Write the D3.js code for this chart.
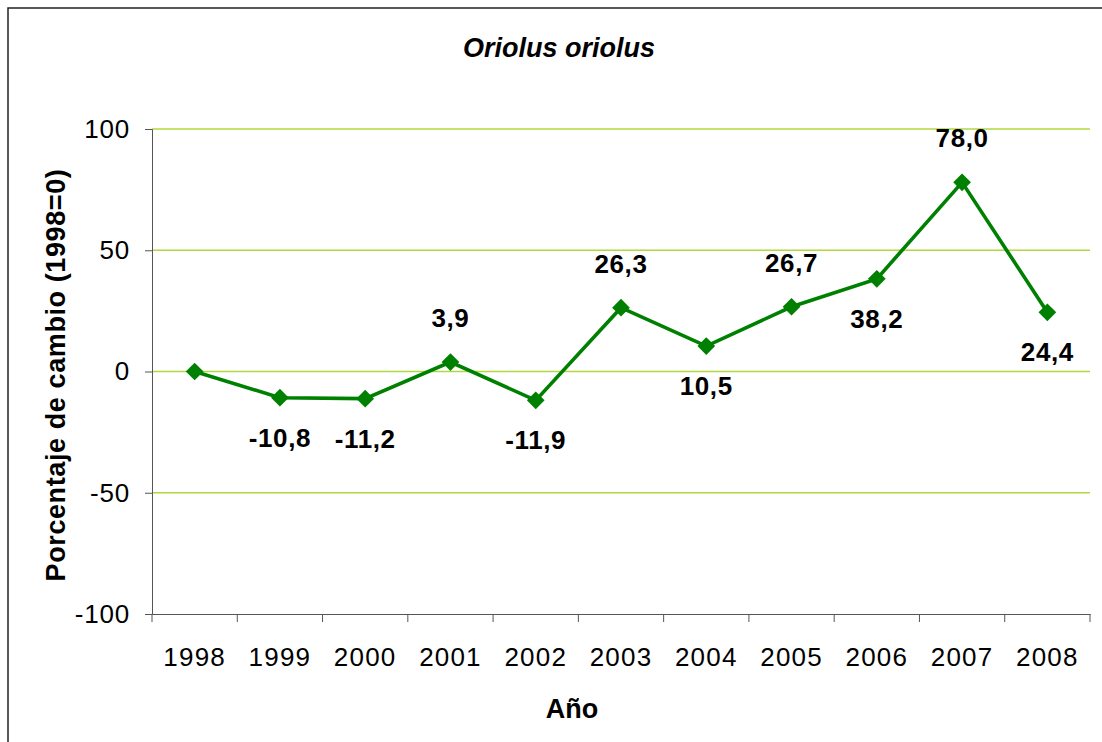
<!DOCTYPE html>
<html>
<head>
<meta charset="utf-8">
<script src="https://cdn.jsdelivr.net/npm/d3@7"></script>
<style>
  body { margin: 0; background: #fff; }
  svg { display: block; font-family: "Liberation Sans", Arial, sans-serif; }
</style>
</head>
<body>
<div id="chart"></div>
<script>
let years = ["1998", "1999", "2000", "2001", "2002", "2003", "2004", "2005", "2006", "2007", "2008"]
let values = [0, -10.8, -11.2, 3.9, -11.9, 26.3, 10.5, 26.7, 38.2, 78.0, 24.4]
// which side the value label sits on (1998 has no label)
let labelPos = [null, "below", "below", "above", "below", "above", "below", "above", "below", "above", "below"]
let yTicks = [-100, -50, 0, 50, 100]

let W = 1102, H = 742
let margin = {top: 129, left: 152}
let width = 1090 - margin.left,
    height = 614 - margin.top
let font = "Liberation Sans, Arial, sans-serif"

let svg = d3.select("#chart").append("svg")
    .attr("width", W)
    .attr("height", H)

// outer frame
svg.append("rect")
    .attr("x", 8).attr("y", 8)
    .attr("width", W + 10).attr("height", H + 10)
    .attr("fill", "none")
    .attr("stroke", "#222")
    .attr("stroke-width", 1.5)

let g = svg.append("g")
    .attr("transform", "translate(" + margin.left + "," + margin.top + ")")

let x = d3.scaleBand().domain(years).range([0, width])
let y = d3.scaleLinear().domain([-100, 100]).range([height, 0])

// gridlines
g.selectAll(".grid")
    .data(yTicks.filter(d => d > -100))
    .enter().append("line")
    .attr("x1", 0).attr("x2", width)
    .attr("y1", d => y(d)).attr("y2", d => y(d))
    .attr("stroke", "#b0d840")
    .attr("stroke-width", 1.3)

// y axis
let yAxis = g.append("g")
    .call(d3.axisLeft(y).tickValues(yTicks).tickSize(7).tickPadding(15)
        .tickFormat(d => String(d)))
yAxis.selectAll("text").attr("font-size", 26).attr("fill", "#000")
    .attr("font-family", font).attr("letter-spacing", 0.8)
yAxis.selectAll("line").attr("stroke", "#555")
yAxis.select(".domain").attr("stroke", "#555")

// x axis: ticks on band boundaries
let xAxis = g.append("g")
    .attr("transform", "translate(0," + height + ")")
    .call(d3.axisBottom(x).tickSize(0).tickPadding(34))
xAxis.selectAll("text").attr("font-size", 26).attr("fill", "#000")
    .attr("font-family", font).attr("letter-spacing", 1.2)
xAxis.select(".domain").attr("stroke", "#555")
g.selectAll(".xtick")
    .data(years.concat(["end"]))
    .enter().append("line")
    .attr("x1", (d, i) => i * x.bandwidth())
    .attr("x2", (d, i) => i * x.bandwidth())
    .attr("y1", height).attr("y2", height + 8)
    .attr("stroke", "#555")

// line
let line = d3.line()
    .x((d, i) => x(years[i]) + x.bandwidth() / 2)
    .y(d => y(d))

g.append("path")
    .datum(values)
    .attr("d", line)
    .attr("fill", "none")
    .attr("stroke", "#008000")
    .attr("stroke-width", 3.6)

g.selectAll(".pt")
    .data(values)
    .enter().append("path")
    .attr("d", d3.symbol().type(d3.symbolDiamond2).size(200))
    .attr("transform", (d, i) => "translate(" + (x(years[i]) + x.bandwidth() / 2) + "," + y(d) + ")")
    .attr("fill", "#008000")

// value labels
let labelled = values.map((v, i) => ({v: v, i: i})).filter(d => labelPos[d.i])
g.selectAll(".lbl")
    .data(labelled)
    .enter().append("text")
    .attr("x", d => x(years[d.i]) + x.bandwidth() / 2)
    .attr("y", d => y(d.v) + (labelPos[d.i] === "above" ? -35 : 49))
    .attr("text-anchor", "middle")
    .attr("font-size", 26)
    .attr("font-weight", "bold")
    .attr("letter-spacing", 0.6)
    .text(d => d.v.toFixed(1).replace(".", ","))

// title and axis labels
svg.append("text")
    .attr("x", 559).attr("y", 57)
    .attr("text-anchor", "middle")
    .attr("font-size", 27)
    .attr("font-weight", "bold")
    .attr("font-style", "italic")
    .text("Oriolus oriolus")

svg.append("text")
    .attr("x", 572).attr("y", 718)
    .attr("text-anchor", "middle")
    .attr("font-size", 27)
    .attr("font-weight", "bold")
    .text("Año")

svg.append("text")
    .attr("transform", "translate(65,375) rotate(-90)")
    .attr("text-anchor", "middle")
    .attr("font-size", 27)
    .attr("font-weight", "bold")
    .attr("letter-spacing", 0.6)
    .text("Porcentaje de cambio (1998=0)")
</script>
</body>
</html>
